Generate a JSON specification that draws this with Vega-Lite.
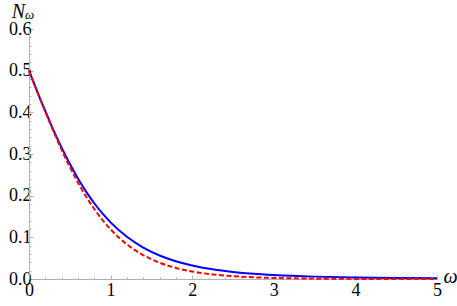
{
  "$schema": "https://vega.github.io/schema/vega-lite/v6.json",
  "autosize": "none",
  "width": 408,
  "height": 250,
  "padding": {"left": 29, "top": 29, "right": 20, "bottom": 27},
  "background": "white",
  "config": {"view": {"stroke": null}, "font": "Times New Roman"},
  "title": {"text": "ω", "anchor": "start", "frame": "group", "orient": "top", "dx": -4, "offset": -31, "baseline": "alphabetic", "font": "Times New Roman", "fontSize": 13, "fontStyle": "italic", "fontWeight": "normal", "color": "#000000"},
  "datasets": {
    "curves": [
      {"w": 0, "n": 0.5, "s": "blue"}, {"w": 0.1, "n": 0.4505, "s": "blue"}, {"w": 0.2, "n": 0.4027, "s": "blue"}, {"w": 0.3, "n": 0.3574, "s": "blue"}, {"w": 0.4, "n": 0.3152, "s": "blue"}, {"w": 0.5, "n": 0.2764, "s": "blue"}, {"w": 0.6, "n": 0.2412, "s": "blue"}, {"w": 0.7, "n": 0.2097, "s": "blue"}, {"w": 0.8, "n": 0.1818, "s": "blue"}, {"w": 0.9, "n": 0.1573, "s": "blue"}, {"w": 1.0, "n": 0.1359, "s": "blue"}, {"w": 1.2, "n": 0.1012, "s": "blue"}, {"w": 1.4, "n": 0.0754, "s": "blue"}, {"w": 1.6, "n": 0.0565, "s": "blue"}, {"w": 1.8, "n": 0.0425, "s": "blue"}, {"w": 2.0, "n": 0.0323, "s": "blue"}, {"w": 2.25, "n": 0.0232, "s": "blue"}, {"w": 2.5, "n": 0.0169, "s": "blue"}, {"w": 2.75, "n": 0.0125, "s": "blue"}, {"w": 3.0, "n": 0.0095, "s": "blue"}, {"w": 3.5, "n": 0.0057, "s": "blue"}, {"w": 4.0, "n": 0.0037, "s": "blue"}, {"w": 4.5, "n": 0.0026, "s": "blue"}, {"w": 5.0, "n": 0.0019, "s": "blue"},
      {"w": 0, "n": 0.5, "s": "red"}, {"w": 0.1, "n": 0.4502, "s": "red"}, {"w": 0.2, "n": 0.4013, "s": "red"}, {"w": 0.3, "n": 0.3543, "s": "red"}, {"w": 0.4, "n": 0.31, "s": "red"}, {"w": 0.5, "n": 0.2689, "s": "red"}, {"w": 0.6, "n": 0.2315, "s": "red"}, {"w": 0.7, "n": 0.1978, "s": "red"}, {"w": 0.8, "n": 0.168, "s": "red"}, {"w": 0.9, "n": 0.1419, "s": "red"}, {"w": 1.0, "n": 0.1192, "s": "red"}, {"w": 1.2, "n": 0.0832, "s": "red"}, {"w": 1.4, "n": 0.0573, "s": "red"}, {"w": 1.6, "n": 0.0392, "s": "red"}, {"w": 1.8, "n": 0.0266, "s": "red"}, {"w": 2.0, "n": 0.018, "s": "red"}, {"w": 2.25, "n": 0.011, "s": "red"}, {"w": 2.5, "n": 0.0067, "s": "red"}, {"w": 2.75, "n": 0.0041, "s": "red"}, {"w": 3.0, "n": 0.0025, "s": "red"}, {"w": 3.5, "n": 0.0009, "s": "red"}, {"w": 4.0, "n": 0.0003, "s": "red"}, {"w": 4.5, "n": 0.0001, "s": "red"}, {"w": 5.0, "n": 0.00005, "s": "red"}
    ]
  },
  "data": {"name": "curves"},
  "encoding": {
    "x": {
      "field": "w", "type": "quantitative",
      "scale": {"domain": [0, 5], "nice": false, "zero": false},
      "axis": {
        "values": [0, 0.2, 0.4, 0.6, 0.8, 1, 1.2, 1.4, 1.6, 1.8, 2, 2.2, 2.4, 2.6, 2.8, 3, 3.2, 3.4, 3.6, 3.8, 4, 4.2, 4.4, 4.6, 4.8, 5],
        "labelExpr": "abs(datum.value - round(datum.value)) < 0.001 ? format(datum.value, 'd') : ''",
        "labelOverlap": false,
        "labelFlush": false,
        "grid": false,
        "domainColor": "#b0b0b0",
        "tickColor": "#b0b0b0",
        "tickSize": {"condition": {"test": "abs(datum.value - round(datum.value)) < 0.001", "value": -4}, "value": -2},
        "labelFont": "Times New Roman",
        "labelFontSize": 18,
        "labelColor": "#000000",
        "labelPadding": 6,
        "title": "ω",
        "titleFont": "Times New Roman",
        "titleFontSize": 20,
        "titleFontStyle": "italic",
        "titleFontWeight": "normal",
        "titleColor": "#000000",
        "titleAnchor": null,
        "titleAlign": "center",
        "titleBaseline": "alphabetic",
        "titleX": 421,
        "titleY": 3
      }
    },
    "y": {
      "field": "n", "type": "quantitative",
      "scale": {"domain": [0, 0.6], "nice": false, "zero": false},
      "axis": {
        "values": [0, 0.02, 0.04, 0.06, 0.08, 0.1, 0.12, 0.14, 0.16, 0.18, 0.2, 0.22, 0.24, 0.26, 0.28, 0.3, 0.32, 0.34, 0.36, 0.38, 0.4, 0.42, 0.44, 0.46, 0.48, 0.5, 0.52, 0.54, 0.56, 0.58, 0.6],
        "labelExpr": "abs(datum.value * 10 - round(datum.value * 10)) < 0.001 ? format(datum.value, '.1f') : ''",
        "labelOverlap": false,
        "labelFlush": false,
        "grid": false,
        "domainColor": "#b0b0b0",
        "tickColor": "#b0b0b0",
        "tickSize": {"condition": {"test": "abs(datum.value * 10 - round(datum.value * 10)) < 0.001", "value": -4}, "value": -2},
        "labelFont": "Times New Roman",
        "labelFontSize": 18,
        "labelColor": "#000000",
        "labelPadding": 2,
        "title": "N",
        "titleFont": "Times New Roman",
        "titleFontSize": 20,
        "titleFontStyle": "italic",
        "titleFontWeight": "normal",
        "titleColor": "#000000",
        "titleAngle": 0,
        "titleAnchor": null,
        "titleAlign": "center",
        "titleBaseline": "alphabetic",
        "titleX": -11,
        "titleY": -12
      }
    }
  },
  "layer": [
    {
      "transform": [{"filter": "datum.s === 'blue'"}],
      "mark": {"type": "line", "color": "#0000ff", "strokeWidth": 2, "interpolate": "monotone"}
    },
    {
      "transform": [{"filter": "datum.s === 'red'"}],
      "mark": {"type": "line", "color": "#ff0000", "strokeWidth": 2, "strokeDash": [5, 2.5], "interpolate": "monotone"}
    }
  ]
}
